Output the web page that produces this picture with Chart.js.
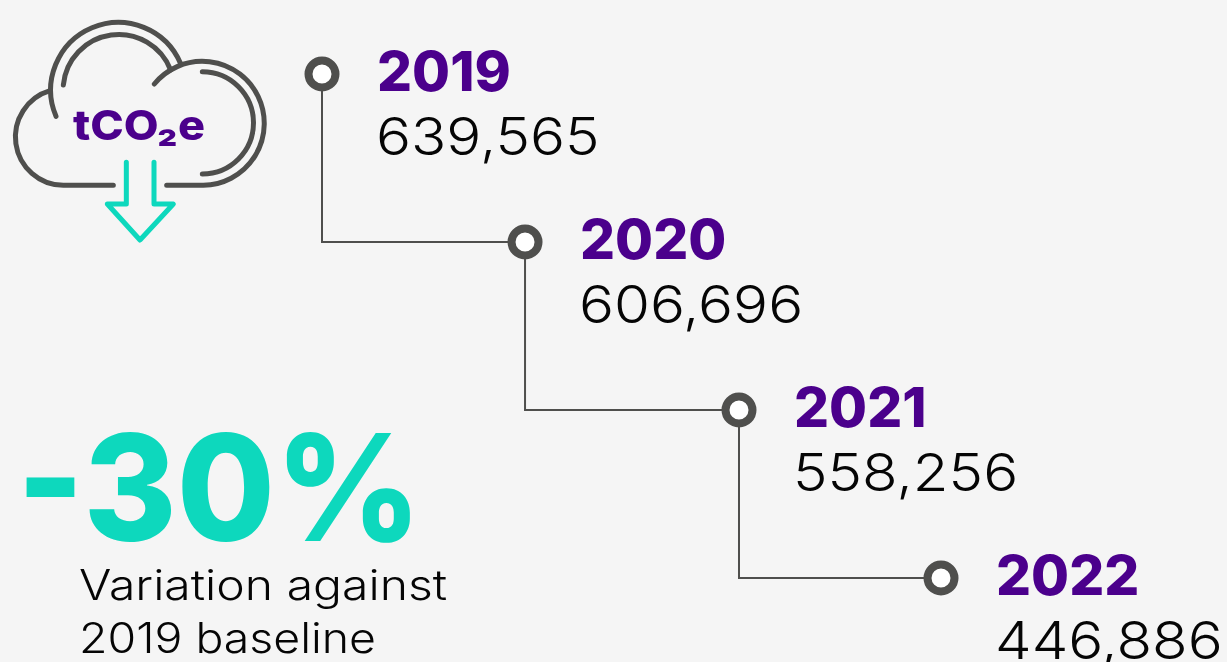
<!DOCTYPE html>
<html><head><meta charset="utf-8">
<script src="https://cdn.jsdelivr.net/npm/chart.js@4"></script>
<style>
html,body{margin:0;padding:0;background:#f5f5f5;overflow:hidden}
#wrap{position:relative;width:1227px;height:662px}
#icon{position:absolute;left:0;top:0}
canvas{position:absolute;left:0;top:0}
</style></head><body>
<div id="wrap">
<svg id="icon" width="300" height="260" viewBox="0 0 900 780" fill="none" stroke-linecap="round" stroke-linejoin="round">
<g stroke="#4f4f4d" stroke-width="15">
<path d="M340 556H190A145 145 0 0 1 150 272"/>
<path d="M168 349A203 203 0 0 1 542 191"/>
<path d="M190 255A167 167 0 0 1 512 210"/>
<path d="M500 556H610A186 186 0 1 0 463 252"/>
<path d="M607 215A153 153 0 0 1 607 522"/>
</g>
<path d="M379 487V612H322L420 720L520 612H462V487" stroke="#0dd8bd" stroke-width="15"/>
</svg>
<canvas id="c" width="1227" height="662"></canvas>
</div>
<script>
const years = ['2019','2020','2021','2022'];
const totals = [639565,606696,558256,446886];
const rungX = [0,0.984,2.021,3];
const rungY = [0,1,2,3];
const headline = '-30%';
const captionLines = ['Variation against','2019 baseline'];
const unitLabel = 'tCO₂e';

const PURPLE='#4b008c', TEAL='#0dd8bd', GREY='#4f4f4d', INK='#050505';
const FONT='Inter, "Open Sans", sans-serif';
function put(ctx,text,x,y,font,color,widen){
  ctx.save();
  ctx.font=font+' '+FONT; ctx.fillStyle=color; ctx.textAlign='left'; ctx.textBaseline='alphabetic';
  ctx.translate(x,y); ctx.scale(widen||1,1); ctx.fillText(text,0,0);
  ctx.restore();
}
const labelPlugin={id:'labels',afterDatasetsDraw(chart){
  const ctx=chart.ctx; const pts=chart.getDatasetMeta(0).data;
  pts.forEach((p,i)=>{
    put(ctx,years[i],p.x+55,p.y+17,'800 55px',PURPLE,1);
    put(ctx,totals[i].toLocaleString('en-US'),p.x+54,p.y+81,'300 52px',INK,1.12);
  });
  put(ctx,unitLabel,73,140,'800 41px',PURPLE,1.1);
  put(ctx,headline,17,541,'800 148px',TEAL,0.96);
  put(ctx,captionLines[0],79,600,'300 42px',INK,1.145);
  put(ctx,captionLines[1],79,653,'300 42px',INK,1.105);
}};
new Chart(document.getElementById('c'),{
  type:'line',
  data:{labels:years,datasets:[{
    data:years.map((y,i)=>({x:rungX[i],y:rungY[i]})),
    stepped:'after',clip:false,borderColor:GREY,borderWidth:2,
    pointRadius:13.5,pointBorderWidth:8,pointBackgroundColor:'#fff',pointBorderColor:GREY,pointHoverRadius:13.5
  }]},
  options:{responsive:false,animation:false,
    layout:{padding:{left:322,right:286,top:74,bottom:84}},
    plugins:{legend:{display:false},tooltip:{enabled:false}},
    scales:{x:{type:'linear',display:false,min:0,max:3},y:{type:'linear',display:false,reverse:true,min:0,max:3}}
  },
  plugins:[labelPlugin]
});
</script>
</body></html>
